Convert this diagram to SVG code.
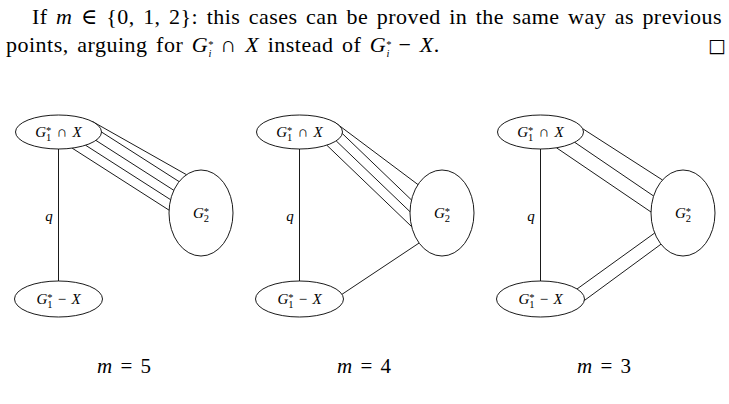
<svg xmlns="http://www.w3.org/2000/svg" width="729" height="404" viewBox="0 0 729 404">
<style>
  text { font-family: "Liberation Serif", "DejaVu Serif", serif; fill: #000; }
  .it { font-style: italic; }
  .node { fill: #fff; stroke: #000; stroke-width: 0.9; }
  .edge { stroke: #000; stroke-width: 0.9; fill: none; }
  .lbl { font-size: 15px; text-anchor: middle; word-spacing: 1.5px; }
  .sm { font-size: 10.5px; }
  .body { font-size: 22px; letter-spacing: 0.5px; }
  .cap { font-size: 21px; text-anchor: middle; word-spacing: 3px; }
</style>

<!-- paragraph text -->
<text class="body" x="32" y="24" textLength="690" lengthAdjust="spacing" style="word-spacing:2.5px">If <tspan class="it">m</tspan> ∈ {0, 1, 2}: this cases can be proved in the same way as previous</text>
<text class="body" x="6" y="52" style="word-spacing:2.5px">points, arguing for <tspan class="it">G</tspan><tspan class="sm" dy="-4">*</tspan><tspan class="sm it" dx="-5.5" dy="9">i</tspan><tspan dy="-5"> ∩ </tspan><tspan class="it">X</tspan> instead of <tspan class="it">G</tspan><tspan class="sm" dy="-4">*</tspan><tspan class="sm it" dx="-5.5" dy="9">i</tspan><tspan dy="-5"> − </tspan><tspan class="it">X</tspan>.</text>
<text x="708" y="52" style="font-family:'DejaVu Sans',sans-serif;font-size:19px">□</text>

<!-- connectors -->
<g id="connectors">
  <g id="edges-m5">
    <line class="edge" x1="58.5" y1="149" x2="58.5" y2="281"/>
    <line class="edge" x1="92.4" y1="121.5" x2="186.5" y2="174.7"/>
    <line class="edge" x1="101.5" y1="132" x2="179.1" y2="181.6"/>
    <line class="edge" x1="95.9" y1="140.4" x2="173.8" y2="190.3"/>
    <line class="edge" x1="85.5" y1="145.2" x2="170.6" y2="199.7"/>
    <line class="edge" x1="72.1" y1="148.1" x2="169.1" y2="210.2"/>
    <text class="lbl it" x="49" y="221">q</text>
  </g>
  <g id="edges-m4" transform="translate(241,0)">
    <line class="edge" x1="58.5" y1="149" x2="58.5" y2="281"/>
    <line class="edge" x1="93.7" y1="122.2" x2="177" y2="184.6"/>
    <line class="edge" x1="101.3" y1="133.5" x2="170.5" y2="200"/>
    <line class="edge" x1="95.2" y1="140.9" x2="169" y2="211.7"/>
    <line class="edge" x1="85.8" y1="145.2" x2="170.7" y2="226.7"/>
    <line class="edge" x1="101" y1="294.3" x2="178.1" y2="243"/>
    <text class="lbl it" x="49" y="221">q</text>
  </g>
  <g id="edges-m3" transform="translate(482,0)">
    <line class="edge" x1="58.5" y1="149" x2="58.5" y2="281"/>
    <line class="edge" x1="100.7" y1="128.7" x2="180.5" y2="180"/>
    <line class="edge" x1="92.7" y1="142.3" x2="171.6" y2="196"/>
    <line class="edge" x1="74.5" y1="147.8" x2="169" y2="212"/>
    <line class="edge" x1="95" y1="289" x2="172.7" y2="233"/>
    <line class="edge" x1="102.35" y1="300.5" x2="179" y2="244.2"/>
    <text class="lbl it" x="49" y="221">q</text>
  </g>
</g>

<!-- nodes: diagram m=5 -->
<g id="m5-top">
  <ellipse class="node" cx="58.5" cy="132" rx="43" ry="17"/>
  <text class="lbl" x="58.5" y="137"><tspan class="it">G</tspan><tspan class="sm" dy="-3.5">*</tspan><tspan class="sm" dx="-5.3" dy="7.5">1</tspan><tspan dy="-4"> ∩ </tspan><tspan class="it">X</tspan></text>
</g>
<g id="m5-g2">
  <ellipse class="node" cx="201" cy="213" rx="32" ry="43"/>
  <text class="lbl" x="201" y="218"><tspan class="it">G</tspan><tspan class="sm" dy="-3.5">*</tspan><tspan class="sm" dx="-5.3" dy="7.5">2</tspan></text>
</g>
<g id="m5-bottom">
  <ellipse class="node" cx="58.5" cy="299" rx="44" ry="18"/>
  <text class="lbl" x="58.5" y="304"><tspan class="it">G</tspan><tspan class="sm" dy="-3.5">*</tspan><tspan class="sm" dx="-5.3" dy="7.5">1</tspan><tspan dy="-4"> − </tspan><tspan class="it">X</tspan></text>
</g>

<!-- nodes: diagram m=4 -->
<g id="m4-top" transform="translate(241,0)">
  <ellipse class="node" cx="58.5" cy="132" rx="43" ry="17"/>
  <text class="lbl" x="58.5" y="137"><tspan class="it">G</tspan><tspan class="sm" dy="-3.5">*</tspan><tspan class="sm" dx="-5.3" dy="7.5">1</tspan><tspan dy="-4"> ∩ </tspan><tspan class="it">X</tspan></text>
</g>
<g id="m4-g2" transform="translate(241,0)">
  <ellipse class="node" cx="201" cy="213" rx="32" ry="43"/>
  <text class="lbl" x="201" y="218"><tspan class="it">G</tspan><tspan class="sm" dy="-3.5">*</tspan><tspan class="sm" dx="-5.3" dy="7.5">2</tspan></text>
</g>
<g id="m4-bottom" transform="translate(241,0)">
  <ellipse class="node" cx="58.5" cy="299" rx="44" ry="18"/>
  <text class="lbl" x="58.5" y="304"><tspan class="it">G</tspan><tspan class="sm" dy="-3.5">*</tspan><tspan class="sm" dx="-5.3" dy="7.5">1</tspan><tspan dy="-4"> − </tspan><tspan class="it">X</tspan></text>
</g>

<!-- nodes: diagram m=3 -->
<g id="m3-top" transform="translate(482,0)">
  <ellipse class="node" cx="58.5" cy="132" rx="43" ry="17"/>
  <text class="lbl" x="58.5" y="137"><tspan class="it">G</tspan><tspan class="sm" dy="-3.5">*</tspan><tspan class="sm" dx="-5.3" dy="7.5">1</tspan><tspan dy="-4"> ∩ </tspan><tspan class="it">X</tspan></text>
</g>
<g id="m3-g2" transform="translate(482,0)">
  <ellipse class="node" cx="201" cy="213" rx="32" ry="43"/>
  <text class="lbl" x="201" y="218"><tspan class="it">G</tspan><tspan class="sm" dy="-3.5">*</tspan><tspan class="sm" dx="-5.3" dy="7.5">2</tspan></text>
</g>
<g id="m3-bottom" transform="translate(482,0)">
  <ellipse class="node" cx="58.5" cy="299" rx="44" ry="18"/>
  <text class="lbl" x="58.5" y="304"><tspan class="it">G</tspan><tspan class="sm" dy="-3.5">*</tspan><tspan class="sm" dx="-5.3" dy="7.5">1</tspan><tspan dy="-4"> − </tspan><tspan class="it">X</tspan></text>
</g>

<!-- captions -->
<g id="captions">
  <text class="cap" x="124" y="373"><tspan class="it">m</tspan> = 5</text>
  <text class="cap" x="364" y="373"><tspan class="it">m</tspan> = 4</text>
  <text class="cap" x="604" y="373"><tspan class="it">m</tspan> = 3</text>
</g>
</svg>
